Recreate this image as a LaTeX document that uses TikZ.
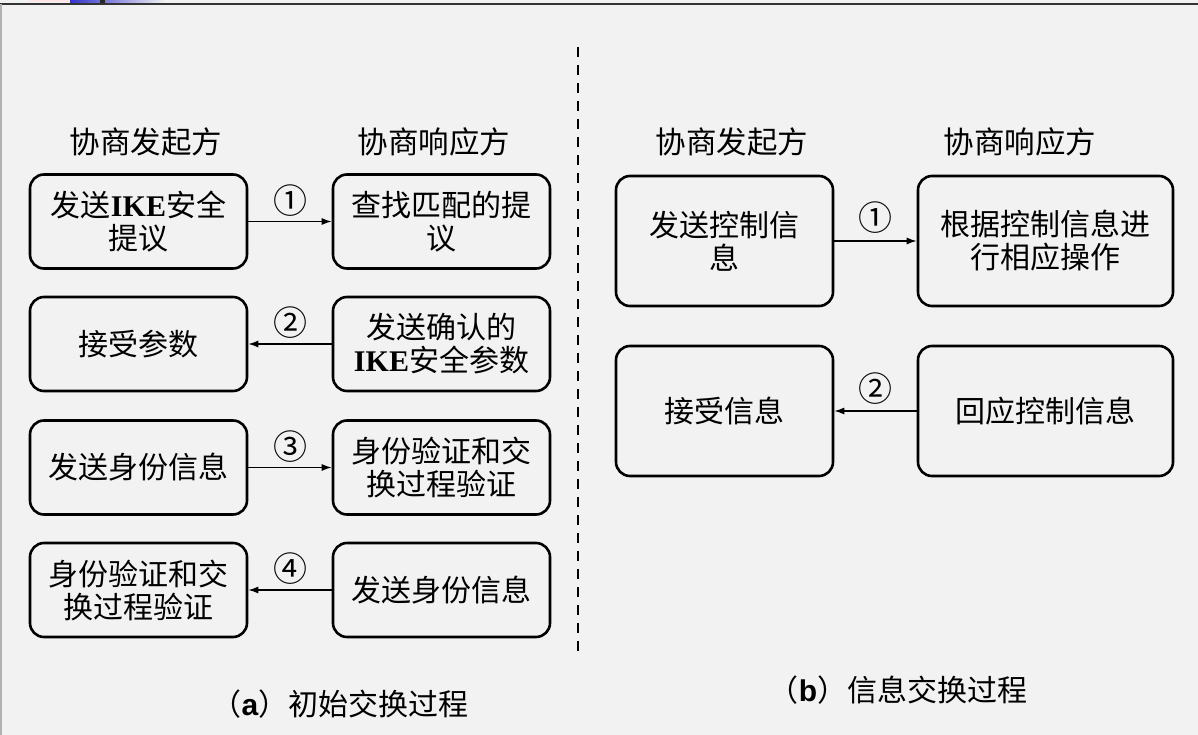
\documentclass[tikz,border=0pt]{standalone}
\usepackage{fontspec}
\setmainfont{Noto Sans CJK SC}
\newfontfamily\tnr{Liberation Serif}
\newfontfamily\lbs{Liberation Sans}
\usetikzlibrary{arrows.meta}
\definecolor{bg}{HTML}{F2F2F2}
\definecolor{artblue}{HTML}{3333CC}
\begin{document}
\begin{tikzpicture}[x=1pt,y=-1pt,
  stepbox/.style={draw=black,line width=2.6pt,rounded corners=14pt,fill=bg,
    align=center,font=\fontsize{30}{33}\selectfont,inner sep=0pt},
  boxA/.style={stepbox,minimum width=217pt,minimum height=94pt},
  boxB/.style={stepbox,minimum width=217pt,minimum height=130pt},
  boxC/.style={stepbox,minimum width=255pt,minimum height=130pt},
  hdr/.style={font=\fontsize{30.5}{33}\selectfont,inner sep=0pt},
  num/.style={font=\fontsize{34}{36}\selectfont,inner sep=0pt},
  captext/.style={font=\fontsize{30}{32}\selectfont,inner sep=0pt},
  conn/.style={line width=1.3pt,-{Latex[length=10pt,width=7pt]}}
]
\useasboundingbox (0,0) rectangle (1198,735);
\fill[bg] (0,0) rectangle (1198,735);
% slide artefacts at the top
\fill[pink!40] (30,0) rectangle (90,2);
\shade[left color=artblue,right color=bg] (70,0) rectangle (165,4);
\fill[black!85] (100,0) rectangle (105,4);
\draw[black!80,line width=2pt] (0,4.5) -- (1198,4.5);
\draw[black!30,line width=1.5pt] (0.75,4) -- (0.75,735);
% divider
\draw[line width=2.6pt,dash pattern=on 10pt off 8pt] (578,47) -- (578,658);

% (a)
\node[hdr] (ha1) at (146,142) {协商发起方};
\node[hdr] (ha2) at (434,142) {协商响应方};
\node[boxA] (a1) at (138.5,221.5) {发送{\tnr\bfseries IKE}安全\\提议};
\node[boxA] (b1) at (441.5,221.5) {查找匹配的提\\议};
\node[boxA] (a2) at (138.5,344) {接受参数};
\node[boxA] (b2) at (441.5,344) {发送确认的\\{\tnr\bfseries IKE}安全参数};
\node[boxA] (a3) at (138.5,467.5) {发送身份信息};
\node[boxA] (b3) at (441.5,467.5) {身份验证和交\\换过程验证};
\node[boxA] (a4) at (138.5,590) {身份验证和交\\换过程验证};
\node[boxA] (b4) at (441.5,590) {发送身份信息};
\draw[conn] (a1.east) -- (b1.west) node[num,midway,yshift=21pt] (n1) {①};
\draw[conn] (b2.west) -- (a2.east) node[num,midway,yshift=21pt] (n2) {②};
\draw[conn] (a3.east) -- (b3.west) node[num,midway,yshift=21pt] (n3) {③};
\draw[conn] (b4.west) -- (a4.east) node[num,midway,yshift=21pt] (n4) {④};
\node[captext] (capa) at (340,704) {（{\lbs\bfseries a}）初始交换过程};

% (b)
\node[hdr] (hb1) at (732,142) {协商发起方};
\node[hdr] (hb2) at (1020,142) {协商响应方};
\node[boxB] (c1) at (724.5,241) {发送控制信\\息};
\node[boxC] (d1) at (1045.5,241) {根据控制信息进\\行相应操作};
\node[boxB] (c2) at (724.5,411) {接受信息};
\node[boxC] (d2) at (1045.5,411) {回应控制信息};
\draw[conn] (c1.east) -- (d1.west) node[num,midway,yshift=23pt] (m1) {①};
\draw[conn] (d2.west) -- (c2.east) node[num,midway,yshift=22pt] (m2) {②};
\node[captext] (capb) at (898,690) {（{\lbs\bfseries b}）信息交换过程};
\end{tikzpicture}
\end{document}
